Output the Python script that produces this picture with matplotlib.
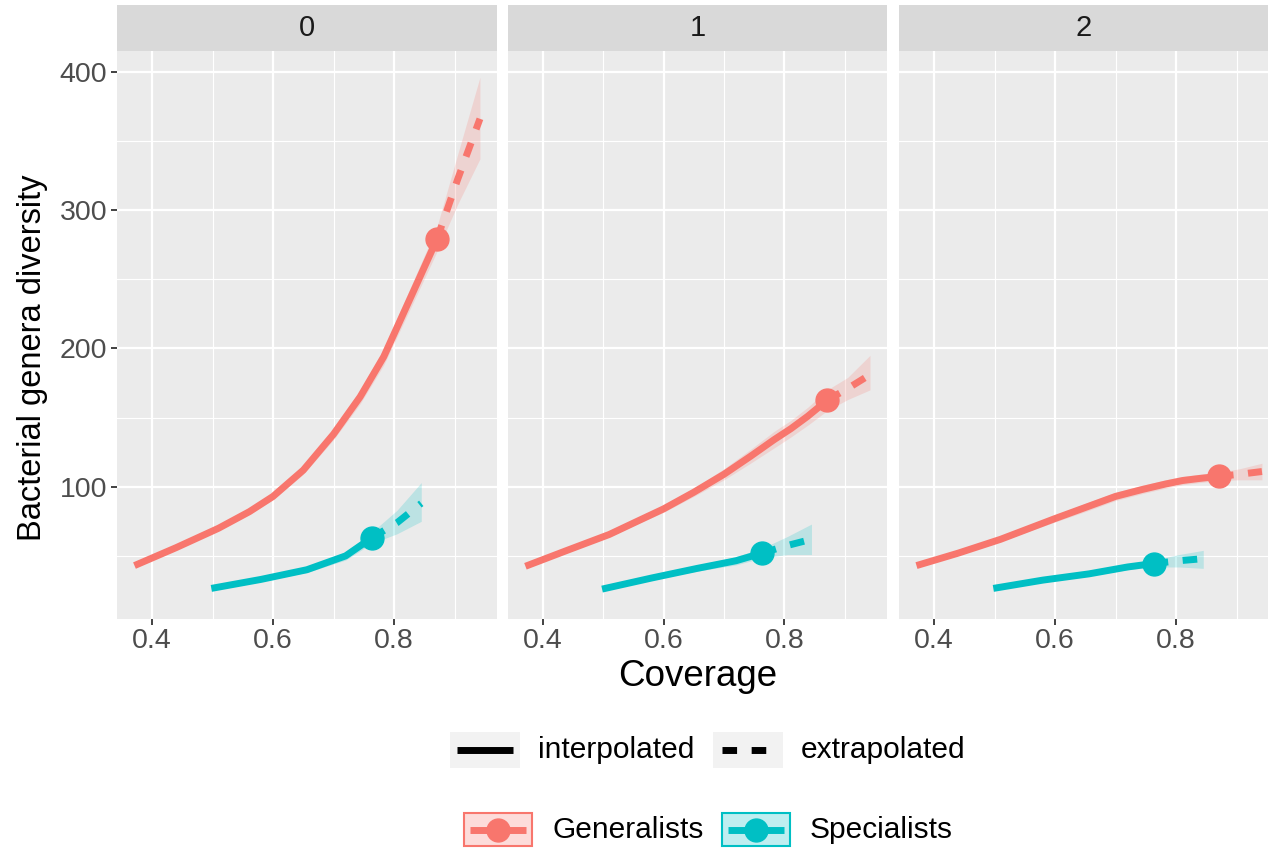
import matplotlib
matplotlib.use("Agg")
from matplotlib import pyplot as plt
from matplotlib.patches import Rectangle
import numpy as np

plt.rcParams['font.family'] = ['Liberation Sans', 'DejaVu Sans']

# --- datos ---
ordenes = ['0', '1', '2']

cov_gen = [0.371, 0.44, 0.51, 0.561, 0.6, 0.65, 0.7, 0.744, 0.783, 0.811, 0.839, 0.871, 0.905, 0.942]
obs_gen = 11  # indice de la muestra observada
cov_spe = [0.498, 0.58, 0.656, 0.72, 0.763, 0.805, 0.845]
obs_spe = 4

gen_q0 = [43, 56, 70, 82, 93, 112, 138, 165, 194, 221, 248, 279, 322, 366]
gen_q0_lo = [42.5, 55, 68.5, 80, 90.5, 109, 134, 160, 188, 214, 240, 270, 304, 337]
gen_q0_hi = [43.5, 57, 71.5, 84, 95.5, 115, 142, 170, 200, 228, 256, 288, 340, 396]
gen_q1 = [42.5, 54, 65.5, 76, 84, 96, 109, 122, 134, 142, 151, 162.5, 171, 181]
gen_q1_lo = [42, 53, 64, 74, 81.5, 93, 105, 117, 128, 136, 144.5, 155, 163, 170]
gen_q1_hi = [43, 55, 67, 78, 86.5, 99, 113, 127, 140, 148, 157.5, 170, 179, 195]
gen_q2 = [43, 52, 62, 70.5, 77, 85, 93, 98, 102, 104.5, 106, 107.5, 109, 111]
gen_q2_lo = [42.5, 51, 60.5, 68.5, 74.5, 82, 90, 95, 99, 101.5, 103, 104.5, 105, 105]
gen_q2_hi = [43.5, 53, 63.5, 72.5, 79.5, 88, 96, 101, 105, 107.5, 109, 110.5, 113, 117]

spe_q0 = [26.5, 33, 40, 50, 63, 74, 88]
spe_q0_lo = [26.2, 32, 38, 47, 59, 66, 75]
spe_q0_hi = [26.8, 34, 42, 53, 67, 83, 103]
spe_q1 = [26, 34, 41, 46.5, 52, 57.5, 62]
spe_q1_lo = [25.7, 33, 39, 43.5, 48.5, 51, 51]
spe_q1_hi = [26.3, 35, 43, 49.5, 55.5, 64, 73]
spe_q2 = [26.5, 32.5, 37, 42, 44.5, 46.5, 48]
spe_q2_lo = [26.2, 31.5, 35.5, 40, 42, 42, 41]
spe_q2_hi = [26.8, 33.5, 38.5, 44, 47, 51, 54]

grupos = ['Generalists', 'Specialists']
colores = ['#F8766D', '#00BFC4']

series = [
    [(cov_gen, obs_gen, gen_q0, gen_q0_lo, gen_q0_hi), (cov_spe, obs_spe, spe_q0, spe_q0_lo, spe_q0_hi)],
    [(cov_gen, obs_gen, gen_q1, gen_q1_lo, gen_q1_hi), (cov_spe, obs_spe, spe_q1, spe_q1_lo, spe_q1_hi)],
    [(cov_gen, obs_gen, gen_q2, gen_q2_lo, gen_q2_hi), (cov_spe, obs_spe, spe_q2, spe_q2_lo, spe_q2_hi)],
]

# --- figura ---
W, H = 1268, 848
fig = plt.figure(figsize=(W / 100, H / 100), dpi=100)

izq = [117, 508, 899]
ancho = [380, 379, 369]
xder = [0.9702, 0.9702, 0.952]
arriba, abajo, tope_strip = 51, 618.7, 5

LW = 5.0
MS = 16.5

for i in range(3):
    ax = fig.add_axes([izq[i] / W, 1 - abajo / H, ancho[i] / W, (abajo - arriba) / H])
    ax.set_facecolor('#EBEBEB')
    ax.set_xlim(0.3421, xder[i])
    ax.set_ylim(4.6, 415)
    ax.set_xticks([0.4, 0.6, 0.8])
    ax.set_xticklabels(['0.4', '0.6', '0.8'])
    ax.set_xticks([0.5, 0.7, 0.9], minor=True)
    ax.set_yticks([100, 200, 300, 400])
    ax.set_yticks([50, 150, 250, 350], minor=True)
    ax.grid(which='major', color='white', linewidth=1.6)
    ax.grid(which='minor', color='white', linewidth=0.8)
    ax.set_axisbelow(True)
    for s in ax.spines.values():
        s.set_visible(False)
    ax.tick_params(which='major', length=4, width=1.3, color='#333333',
                   labelsize=20.5, labelcolor='#4D4D4D', pad=3)
    ax.tick_params(which='minor', length=0)
    if i > 0:
        ax.tick_params(axis='y', labelleft=False, length=0)

    for (cov, obs, m, lo, hi), col in zip(series[i], colores):
        ax.fill_between(cov, lo, hi, color=col, alpha=0.2, linewidth=0)
        ax.plot(cov[:obs + 1], m[:obs + 1], color=col, lw=LW,
                solid_capstyle='butt', solid_joinstyle='round')
        ax.plot(cov[obs:], m[obs:], color=col, lw=LW, dashes=(2.1, 2.1),
                dash_capstyle='butt', dash_joinstyle='round')
        ax.plot(cov[obs], m[obs], 'o', color=col, ms=MS, mec=col)

    # strip superior
    sax = fig.add_axes([izq[i] / W, 1 - arriba / H, ancho[i] / W, (arriba - tope_strip) / H])
    sax.set_facecolor('#D9D9D9')
    sax.set_xticks([])
    sax.set_yticks([])
    for s in sax.spines.values():
        s.set_visible(False)
    sax.text(0.5, 0.5, ordenes[i], ha='center', va='center', fontsize=21,
             color='#1A1A1A', transform=sax.transAxes)

fig.text(698 / W, 1 - 677 / H, 'Coverage', ha='center', va='center', fontsize=26.5)
fig.text(33 / W, 1 - 358 / H, 'Bacterial genera diversity', ha='center', va='center',
         fontsize=23.5, rotation=90)

# --- leyendas (coordenadas en pixeles) ---
lax = fig.add_axes([0, 0, 1, 1], facecolor='none')
lax.set_xlim(0, W)
lax.set_ylim(H, 0)
lax.axis('off')

# tipo de linea
for x0, txt, dash in [(450, 'interpolated', False), (713, 'extrapolated', True)]:
    lax.add_patch(Rectangle((x0, 732), 70, 36, facecolor='#F2F2F2', edgecolor='none'))
    if dash:
        lax.plot([x0 + 9, x0 + 65], [750, 750], color='black', lw=LW,
                 dashes=(2.1, 2.1), dash_capstyle='butt')
    else:
        lax.plot([x0 + 7, x0 + 63], [750, 750], color='black', lw=LW, solid_capstyle='butt')
    lax.text(x0 + 88, 750, txt, ha='left', va='center', fontsize=21.5)

# grupos
for x0, txt, col in [(464, grupos[0], colores[0]), (722, grupos[1], colores[1])]:
    lax.add_patch(Rectangle((x0, 813), 68, 33, facecolor=col, alpha=0.25, edgecolor='none'))
    lax.add_patch(Rectangle((x0, 813), 68, 33, facecolor='none', edgecolor=col, lw=1.5))
    lax.plot([x0 + 6, x0 + 62], [829.5, 829.5], color=col, lw=LW, solid_capstyle='butt')
    lax.plot(x0 + 34, 829.5, 'o', color=col, ms=MS)
    lax.text(x0 + 88, 830, txt, ha='left', va='center', fontsize=21.5)

fig.savefig('out.png', dpi=100)
